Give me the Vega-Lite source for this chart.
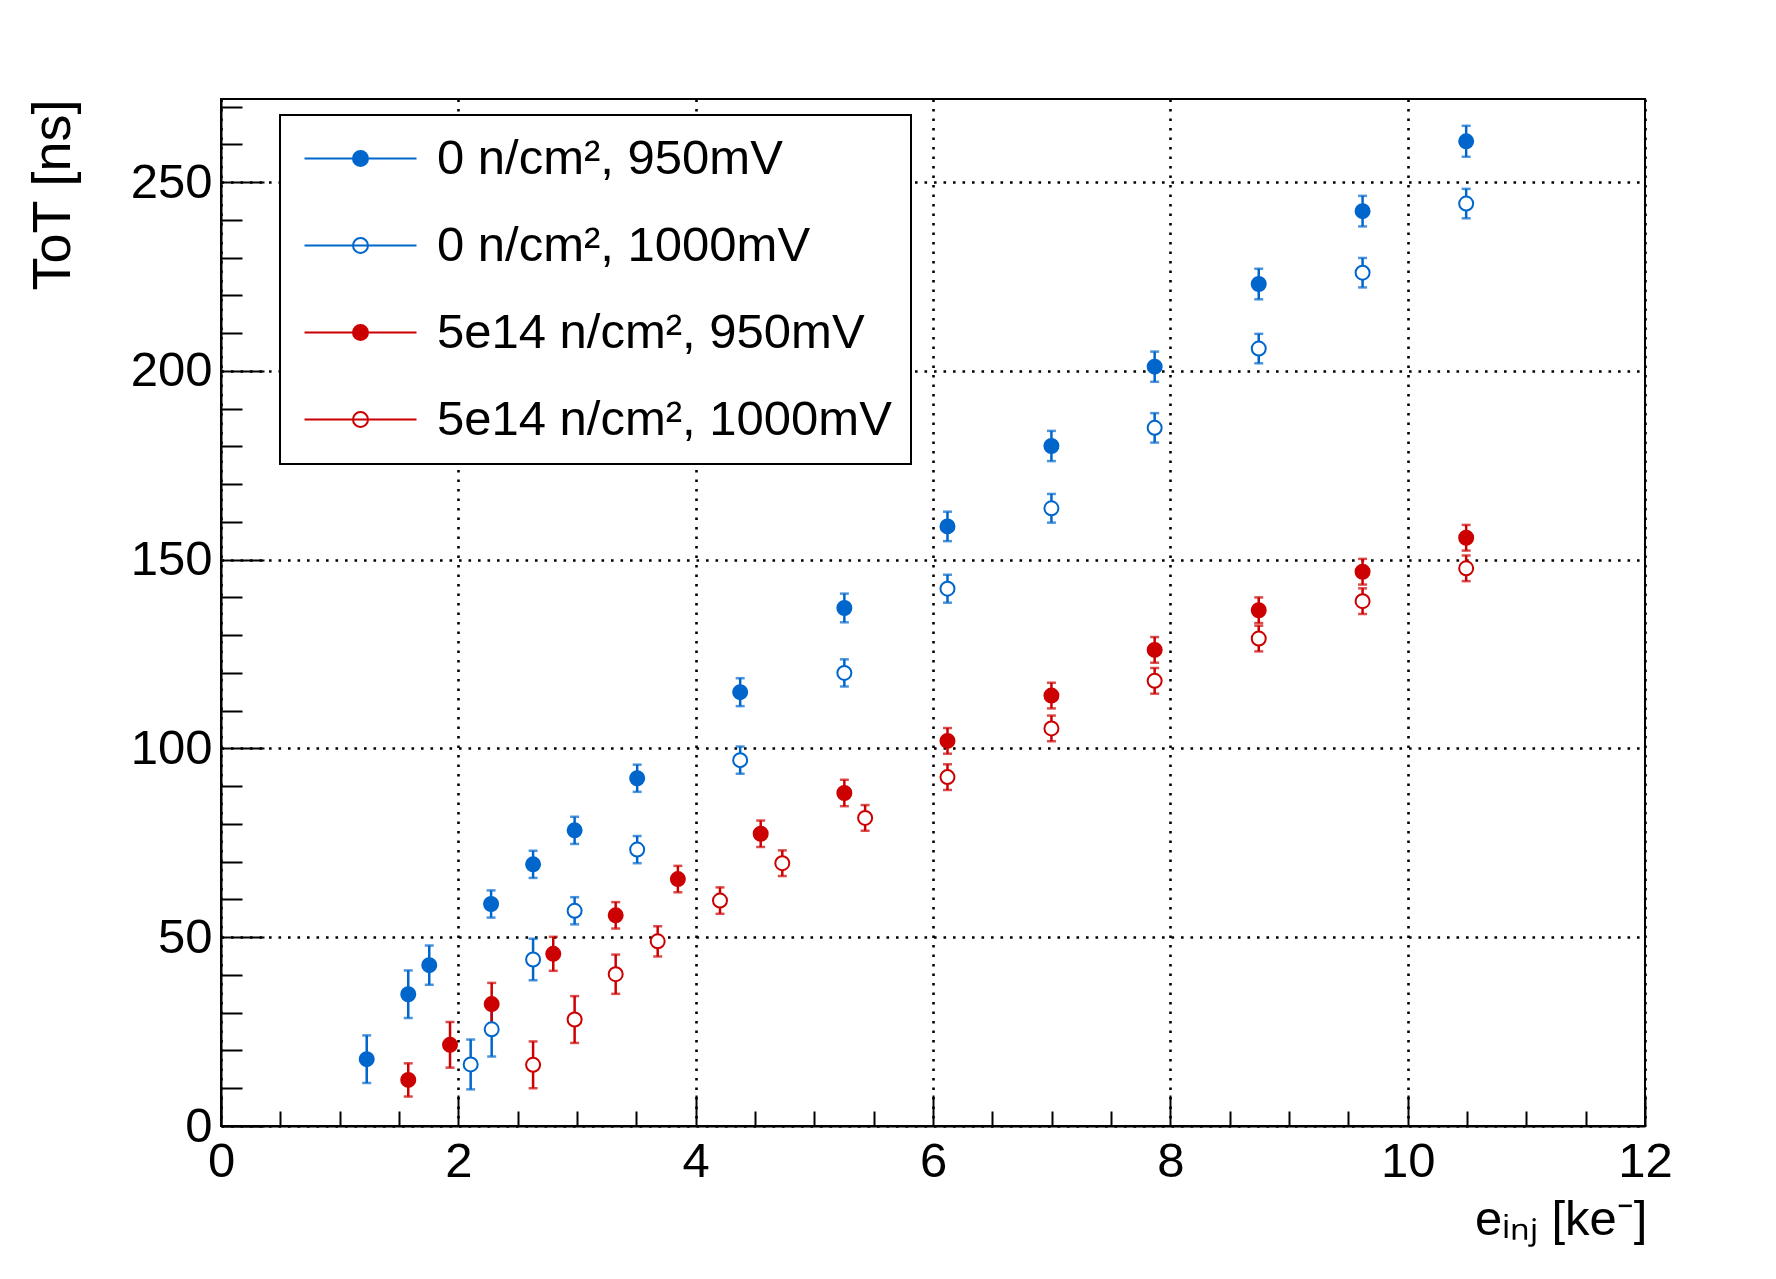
{
  "$schema": "https://vega.github.io/schema/vega-lite/v6.json",
  "width": 1424,
  "height": 1027,
  "autosize": {"type": "none"},
  "padding": {"left": 221, "top": 99, "right": 131, "bottom": 153},
  "background": "white",
  "data": {
    "values": [
      {"series": "0 n/cm², 950mV", "e": 1.228, "tot": 17.7, "err": 6.3},
      {"series": "0 n/cm², 950mV", "e": 1.578, "tot": 34.9, "err": 6.3},
      {"series": "0 n/cm², 950mV", "e": 1.755, "tot": 42.6, "err": 5.2},
      {"series": "0 n/cm², 950mV", "e": 2.276, "tot": 58.8, "err": 3.6},
      {"series": "0 n/cm², 950mV", "e": 2.63, "tot": 69.3, "err": 3.6},
      {"series": "0 n/cm², 950mV", "e": 2.98, "tot": 78.3, "err": 3.6},
      {"series": "0 n/cm², 950mV", "e": 3.507, "tot": 92.1, "err": 3.6},
      {"series": "0 n/cm², 950mV", "e": 4.375, "tot": 114.9, "err": 3.7},
      {"series": "0 n/cm², 950mV", "e": 5.253, "tot": 137.2, "err": 3.8},
      {"series": "0 n/cm², 950mV", "e": 6.122, "tot": 158.8, "err": 3.9},
      {"series": "0 n/cm², 950mV", "e": 6.998, "tot": 180.1, "err": 4.0},
      {"series": "0 n/cm², 950mV", "e": 7.868, "tot": 201.1, "err": 4.0},
      {"series": "0 n/cm², 950mV", "e": 8.745, "tot": 223.0, "err": 4.05},
      {"series": "0 n/cm², 950mV", "e": 9.62, "tot": 242.3, "err": 4.05},
      {"series": "0 n/cm², 950mV", "e": 10.493, "tot": 260.8, "err": 4.1},
      {"series": "0 n/cm², 1000mV", "e": 2.104, "tot": 16.3, "err": 6.6},
      {"series": "0 n/cm², 1000mV", "e": 2.281, "tot": 25.6, "err": 7.2},
      {"series": "0 n/cm², 1000mV", "e": 2.63, "tot": 44.1, "err": 5.5},
      {"series": "0 n/cm², 1000mV", "e": 2.98, "tot": 57.0, "err": 3.6},
      {"series": "0 n/cm², 1000mV", "e": 3.507, "tot": 73.2, "err": 3.6},
      {"series": "0 n/cm², 1000mV", "e": 4.375, "tot": 96.9, "err": 3.6},
      {"series": "0 n/cm², 1000mV", "e": 5.253, "tot": 120.0, "err": 3.6},
      {"series": "0 n/cm², 1000mV", "e": 6.122, "tot": 142.3, "err": 3.7},
      {"series": "0 n/cm², 1000mV", "e": 6.998, "tot": 163.6, "err": 3.8},
      {"series": "0 n/cm², 1000mV", "e": 7.868, "tot": 184.9, "err": 3.9},
      {"series": "0 n/cm², 1000mV", "e": 8.745, "tot": 205.9, "err": 3.9},
      {"series": "0 n/cm², 1000mV", "e": 9.62, "tot": 226.0, "err": 3.9},
      {"series": "0 n/cm², 1000mV", "e": 10.493, "tot": 244.3, "err": 3.9},
      {"series": "5e14 n/cm², 950mV", "e": 1.578, "tot": 12.2, "err": 4.4},
      {"series": "5e14 n/cm², 950mV", "e": 1.93, "tot": 21.5, "err": 6.05},
      {"series": "5e14 n/cm², 950mV", "e": 2.281, "tot": 32.3, "err": 5.6},
      {"series": "5e14 n/cm², 950mV", "e": 2.8, "tot": 45.6, "err": 4.5},
      {"series": "5e14 n/cm², 950mV", "e": 3.326, "tot": 55.8, "err": 3.5},
      {"series": "5e14 n/cm², 950mV", "e": 3.85, "tot": 65.4, "err": 3.5},
      {"series": "5e14 n/cm², 950mV", "e": 4.548, "tot": 77.4, "err": 3.5},
      {"series": "5e14 n/cm², 950mV", "e": 5.253, "tot": 88.2, "err": 3.5},
      {"series": "5e14 n/cm², 950mV", "e": 6.122, "tot": 102.0, "err": 3.4},
      {"series": "5e14 n/cm², 950mV", "e": 6.998, "tot": 114.0, "err": 3.4},
      {"series": "5e14 n/cm², 950mV", "e": 7.868, "tot": 126.1, "err": 3.4},
      {"series": "5e14 n/cm², 950mV", "e": 8.745, "tot": 136.6, "err": 3.4},
      {"series": "5e14 n/cm², 950mV", "e": 9.62, "tot": 146.8, "err": 3.4},
      {"series": "5e14 n/cm², 950mV", "e": 10.493, "tot": 155.8, "err": 3.4},
      {"series": "5e14 n/cm², 1000mV", "e": 2.63, "tot": 16.2, "err": 6.2},
      {"series": "5e14 n/cm², 1000mV", "e": 2.98, "tot": 28.2, "err": 6.2},
      {"series": "5e14 n/cm², 1000mV", "e": 3.326, "tot": 40.2, "err": 5.2},
      {"series": "5e14 n/cm², 1000mV", "e": 3.68, "tot": 48.9, "err": 4.0},
      {"series": "5e14 n/cm², 1000mV", "e": 4.205, "tot": 59.7, "err": 3.5},
      {"series": "5e14 n/cm², 1000mV", "e": 4.73, "tot": 69.6, "err": 3.4},
      {"series": "5e14 n/cm², 1000mV", "e": 5.428, "tot": 81.6, "err": 3.4},
      {"series": "5e14 n/cm², 1000mV", "e": 6.122, "tot": 92.4, "err": 3.4},
      {"series": "5e14 n/cm², 1000mV", "e": 6.998, "tot": 105.3, "err": 3.4},
      {"series": "5e14 n/cm², 1000mV", "e": 7.868, "tot": 117.9, "err": 3.4},
      {"series": "5e14 n/cm², 1000mV", "e": 8.745, "tot": 129.1, "err": 3.4},
      {"series": "5e14 n/cm², 1000mV", "e": 9.62, "tot": 139.0, "err": 3.4},
      {"series": "5e14 n/cm², 1000mV", "e": 10.493, "tot": 147.7, "err": 3.4}
    ]
  },
  "encoding": {
    "x": {
      "field": "e",
      "type": "quantitative",
      "scale": {"domain": [0, 12], "nice": false, "zero": false},
      "axis": {
        "values": [0, 0.5, 1, 1.5, 2, 2.5, 3, 3.5, 4, 4.5, 5, 5.5, 6, 6.5, 7, 7.5, 8, 8.5, 9, 9.5, 10, 10.5, 11, 11.5, 12],
        "labelExpr": "datum.value % 2 === 0 ? format(datum.value, 'd') : ''",
        "tickSize": {"condition": {"test": "datum.value % 2 === 0", "value": -31}, "value": -15},
        "grid": true,
        "gridOpacity": {"condition": {"test": "datum.value % 2 === 0", "value": 1}, "value": 0},
        "labelPadding": 42,
        "title": "eᵢₙⱼ [ke⁻]",
        "titleAlign": "right",
        "titleAnchor": "end",
        "titleBaseline": "alphabetic",
        "titleX": 1426,
        "titleY": 108
      }
    },
    "y": {
      "field": "tot",
      "type": "quantitative",
      "scale": {"domain": [0, 272], "nice": false, "zero": false},
      "axis": {
        "values": [0, 10, 20, 30, 40, 50, 60, 70, 80, 90, 100, 110, 120, 130, 140, 150, 160, 170, 180, 190, 200, 210, 220, 230, 240, 250, 260, 270],
        "labelExpr": "datum.value % 50 === 0 ? datum.label : ''",
        "tickSize": {"condition": {"test": "datum.value % 50 === 0", "value": -43}, "value": -21},
        "grid": true,
        "gridOpacity": {"condition": {"test": "datum.value % 50 === 0", "value": 1}, "value": 0},
        "labelPadding": 52,
        "title": "ToT [ns]",
        "titleFontSize": 54,
        "titleAngle": -90,
        "titleAlign": "right",
        "titleAnchor": "end",
        "titleBaseline": "alphabetic",
        "titleX": -152,
        "titleY": 0
      }
    }
  },
  "layer": [
    {
      "mark": {"type": "errorbar", "ticks": true, "size": 9, "thickness": 2.5},
      "encoding": {
        "y": {"field": "tot", "type": "quantitative"},
        "yError": {"field": "err"},
        "color": {
          "field": "series",
          "type": "nominal",
          "scale": {
            "domain": ["5e14 n/cm², 1000mV", "5e14 n/cm², 950mV", "0 n/cm², 1000mV", "0 n/cm², 950mV"],
            "range": ["#cc0000", "#cc0000", "#0066cc", "#0066cc"]
          },
          "legend": null
        }
      }
    },
    {
      "mark": {"type": "point", "shape": "circle", "size": 196, "strokeWidth": 2, "opacity": 1},
      "encoding": {
        "stroke": {
          "field": "series",
          "type": "nominal",
          "scale": {
            "domain": ["0 n/cm², 950mV", "0 n/cm², 1000mV", "5e14 n/cm², 950mV", "5e14 n/cm², 1000mV"],
            "range": ["#0066cc", "#0066cc", "#cc0000", "#cc0000"]
          },
          "legend": {
            "orient": "none", "legendX": 59, "legendY": 16, "title": null,
            "symbolType": "M-2.8,0L2.8,0M-0.375,0A0.375,0.375,0,1,0,0.375,0A0.375,0.375,0,1,0,-0.375,0Z",
            "symbolSize": 1600, "symbolStrokeWidth": 2, "symbolOffset": 37, "labelOffset": 52,
            "padding": 19, "rowPadding": 37, "labelLimit": 1000,
            "fillColor": "white", "strokeColor": "black"
          }
        },
        "fill": {
          "field": "series",
          "type": "nominal",
          "scale": {
            "domain": ["0 n/cm², 950mV", "0 n/cm², 1000mV", "5e14 n/cm², 950mV", "5e14 n/cm², 1000mV"],
            "range": ["#0066cc", "white", "#cc0000", "white"]
          },
          "legend": {
            "orient": "none", "legendX": 59, "legendY": 16, "title": null,
            "symbolType": "M-2.8,0L2.8,0M-0.375,0A0.375,0.375,0,1,0,0.375,0A0.375,0.375,0,1,0,-0.375,0Z",
            "symbolSize": 1600, "symbolStrokeWidth": 2, "symbolOffset": 37, "labelOffset": 52,
            "padding": 19, "rowPadding": 37, "labelLimit": 1000,
            "fillColor": "white", "strokeColor": "black"
          }
        }
      }
    }
  ],
  "config": {
    "font": "Liberation Sans",
    "view": {"stroke": "black", "strokeWidth": 2},
    "axis": {
      "domainColor": "black",
      "domainWidth": 2,
      "tickColor": "black",
      "tickWidth": 2,
      "gridColor": "black",
      "gridWidth": 2.6,
      "gridDash": [2.6, 6.9],
      "labelColor": "black",
      "labelFont": "Liberation Sans",
      "labelFontSize": 49,
      "labelFlush": false,
      "labelOverlap": false,
      "titleColor": "black",
      "titleFont": "Liberation Sans",
      "titleFontSize": 49,
      "titleFontWeight": "normal"
    },
    "legend": {
      "labelFont": "Liberation Sans",
      "labelFontSize": 49,
      "labelColor": "black",
      "strokeWidth": 2
    }
  }
}
